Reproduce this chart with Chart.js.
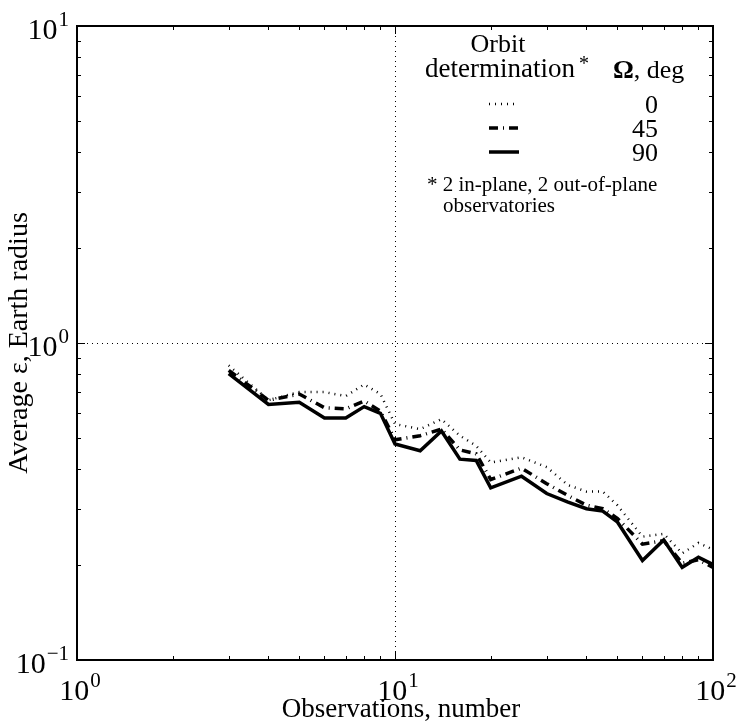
<!DOCTYPE html>
<html>
<head>
<meta charset="utf-8">
<script src="https://cdn.jsdelivr.net/npm/chart.js@4/dist/chart.umd.min.js"></script>
<style>
  body { margin: 0; background: #fff; }
  #wrap { width: 740px; height: 723px; }
</style>
</head>
<body>
<div id="wrap"><canvas id="chart-orbit" width="740" height="723"></canvas></div>
<script>
// observation counts and average error (Earth radii) per ascending node angle
const observations = [3, 4, 5, 6, 7, 8, 9, 10, 12, 14, 16, 18, 20, 25, 30, 35, 40, 45, 50, 60, 70, 80, 90, 100];
const omega0  = [0.85, 0.66, 0.70, 0.70, 0.68, 0.74, 0.69, 0.555, 0.535, 0.575, 0.51, 0.474, 0.42, 0.436, 0.406, 0.356, 0.34, 0.34, 0.308, 0.245, 0.25, 0.217, 0.234, 0.223];
const omega45 = [0.82, 0.66, 0.69, 0.625, 0.62, 0.656, 0.61, 0.495, 0.51, 0.535, 0.46, 0.447, 0.371, 0.403, 0.36, 0.33, 0.308, 0.30, 0.28, 0.232, 0.238, 0.202, 0.207, 0.196];
const omega90 = [0.80, 0.64, 0.65, 0.58, 0.58, 0.63, 0.60, 0.48, 0.457, 0.528, 0.43, 0.426, 0.349, 0.38, 0.335, 0.315, 0.30, 0.295, 0.273, 0.206, 0.239, 0.196, 0.211, 0.20];
const omegaLabels = ['0', '45', '90'];
const xTickExp = ['0', '1', '2'];
const yTickExp = ['\u22121', '0', '1'];

const serif = "'Liberation Serif', 'DejaVu Serif', serif";
const dashes = [[1, 5], [9, 5, 1, 5], []];
const widths = [2.5, 3.5, 3.5];

const toPoints = arr => arr.map((v, i) => ({ x: observations[i], y: v }));

// draws "10" with a raised exponent, anchored by align
function power10(ctx, exp, x, y, align) {
  ctx.font = `30px ${serif}`;
  const wBase = ctx.measureText('10').width;
  ctx.font = `21px ${serif}`;
  const wExp = ctx.measureText(exp).width;
  const total = wBase + wExp + 1;
  let left = x;
  if (align === 'center') left = x - total / 2;
  if (align === 'right') left = x - total;
  ctx.textAlign = 'left';
  ctx.textBaseline = 'alphabetic';
  ctx.font = `30px ${serif}`;
  ctx.fillText('10', left, y);
  ctx.font = `21px ${serif}`;
  ctx.fillText(exp, left + wBase + 1, y - 13);
}

const frameAndTicks = {
  id: 'frameAndTicks',
  beforeDatasetsDraw(chart) {
    const { ctx, chartArea: { top, bottom, left, right }, scales: { x, y } } = chart;
    ctx.save();
    // dotted grid at the inner decades
    ctx.strokeStyle = '#000';
    ctx.lineWidth = 1;
    ctx.setLineDash([1, 4]);
    const gx = Math.round(x.getPixelForValue(10)) + 0.5;
    const gy = Math.round(y.getPixelForValue(1)) + 0.5;
    ctx.beginPath();
    ctx.moveTo(gx, top); ctx.lineTo(gx, bottom);
    ctx.moveTo(left, gy); ctx.lineTo(right, gy);
    ctx.stroke();
    ctx.restore();
  },
  afterDatasetsDraw(chart) {
    const { ctx, chartArea: { top, bottom, left, right }, scales: { x, y } } = chart;
    ctx.save();
    ctx.strokeStyle = '#000';
    ctx.fillStyle = '#000';

    // inward ticks on all four sides
    ctx.lineWidth = 1;
    ctx.beginPath();
    [1, 10].forEach(d => {
      for (let k = 1; k <= 10; k++) {
        const len = (k === 1 || k === 10) ? 8 : 4;
        const px = Math.round(x.getPixelForValue(k * d)) + 0.5;
        ctx.moveTo(px, bottom); ctx.lineTo(px, bottom - len);
        ctx.moveTo(px, top); ctx.lineTo(px, top + len);
      }
    });
    [0.1, 1].forEach(d => {
      for (let k = 1; k <= 10; k++) {
        const len = (k === 1 || k === 10) ? 8 : 4;
        const py = Math.round(y.getPixelForValue(k * d)) + 0.5;
        ctx.moveTo(left, py); ctx.lineTo(left + len, py);
        ctx.moveTo(right, py); ctx.lineTo(right - len, py);
      }
    });
    ctx.stroke();

    // frame
    ctx.lineWidth = 2;
    ctx.strokeRect(left, top, right - left, bottom - top);

    // tick labels
    [1, 10, 100].forEach((v, i) => power10(ctx, xTickExp[i], x.getPixelForValue(v) + 3, bottom + 40, 'center'));
    [0.1, 1, 10].forEach((v, i) => power10(ctx, yTickExp[i], left - 8, y.getPixelForValue(v) + 13, 'right'));

    // axis titles
    ctx.font = `27px ${serif}`;
    ctx.textAlign = 'center';
    ctx.textBaseline = 'alphabetic';
    ctx.fillText('Observations, number', (left + right) / 2 + 6, bottom + 57);
    ctx.save();
    ctx.font = `28px ${serif}`;
    ctx.translate(27, (top + bottom) / 2);
    ctx.rotate(-Math.PI / 2);
    ctx.fillText('Average \u03b5, Earth radius', 0, 0);
    ctx.restore();

    // legend block
    ctx.font = `26px ${serif}`;
    ctx.textAlign = 'center';
    ctx.fillText('Orbit', 498, 52);
    ctx.font = `27px ${serif}`;
    ctx.fillText('determination', 500, 77);
    ctx.font = `20px ${serif}`;
    ctx.textAlign = 'left';
    ctx.fillText('*', 579, 70);
    ctx.font = `bold 26px ${serif}`;
    ctx.fillText('\u03a9', 613, 78);
    const wOm = ctx.measureText('\u03a9').width;
    ctx.font = `26px ${serif}`;
    ctx.fillText(', deg', 613 + wOm, 78);

    const rowY = [104, 128, 152];
    omegaLabels.forEach((lab, i) => {
      ctx.textAlign = 'right';
      ctx.font = `26px ${serif}`;
      ctx.fillText(lab, 658, rowY[i] + 9);
      ctx.beginPath();
      ctx.lineWidth = widths[i];
      ctx.setLineDash(dashes[i]);
      ctx.moveTo(489, rowY[i]);
      ctx.lineTo(519, rowY[i]);
      ctx.stroke();
    });
    ctx.setLineDash([]);

    ctx.font = `21px ${serif}`;
    ctx.textAlign = 'left';
    ctx.fillText('* 2 in-plane, 2 out-of-plane', 427, 191);
    ctx.fillText('observatories', 443, 212);
    ctx.restore();
  }
};

new Chart(document.getElementById('chart-orbit'), {
  type: 'line',
  data: {
    datasets: [omega0, omega45, omega90].map((arr, i) => ({
      label: '\u03a9 = ' + omegaLabels[i],
      data: toPoints(arr),
      borderColor: '#000',
      borderWidth: widths[i],
      borderDash: dashes[i],
      pointRadius: 0,
      tension: 0,
      fill: false
    }))
  },
  options: {
    responsive: false,
    animation: false,
    layout: { padding: { left: 77, right: 27, top: 26, bottom: 63 } },
    plugins: { legend: { display: false }, tooltip: { enabled: false } },
    scales: {
      x: { type: 'logarithmic', min: 1, max: 100, display: false },
      y: { type: 'logarithmic', min: 0.1, max: 10, display: false }
    }
  },
  plugins: [frameAndTicks]
});
</script>
</body>
</html>
